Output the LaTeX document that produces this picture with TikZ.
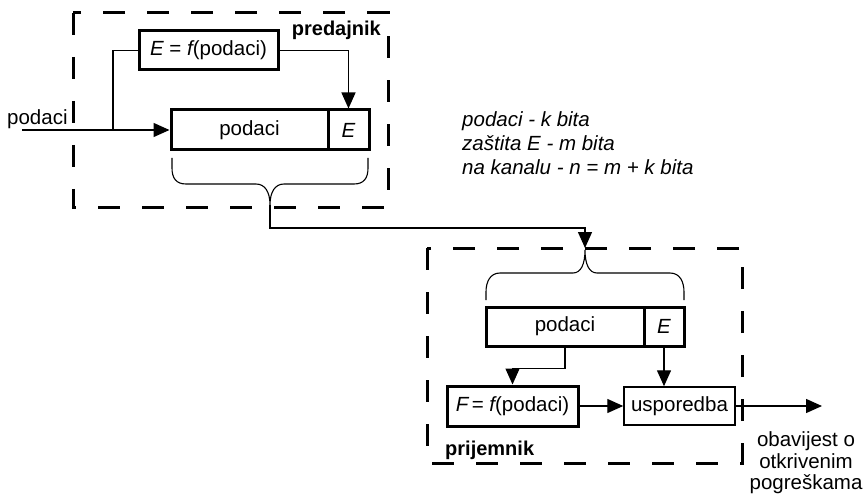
\documentclass[tikz,border=0pt]{standalone}
\usepackage{fontspec}
\setmainfont{Liberation Sans}
\usetikzlibrary{arrows.meta}
\begin{document}
\begin{tikzpicture}[x=1pt,y=-1pt,
  font=\fontsize{20.5}{24}\selectfont,
  thin line/.style={line width=1.4pt},
  arr/.style={thin line,-{Triangle[length=16pt,width=14pt]}},
  thickbox/.style={draw,line width=3pt,inner sep=0pt,anchor=center},
  thinbox/.style={draw,line width=1.5pt,inner sep=0pt,anchor=center},
  region/.style={draw,line width=3pt,dash pattern=on 22pt off 22pt},
  brace/.style={line width=1.1pt},
  label/.style={inner sep=0pt}]
\useasboundingbox (0,0) rectangle (866,494);

% dashed outlines of transmitter and receiver
\draw[region] (73,13) rectangle (388,208);
\draw[region] (427,248) rectangle (742,463);

% transmitter
\node[thickbox,minimum width=139pt,minimum height=39pt] (efunc) at (208.5,50.5)
  {{\itshape E} = {\itshape f}(podaci)};
\node[thickbox,minimum width=157pt,minimum height=40pt] (pcell) at (249.5,130) {podaci};
\node[thickbox,minimum width=41pt,minimum height=40pt] (ecell) at (348.5,130) {\itshape E};
\node[label,anchor=base east,font=\fontsize{20}{24}\selectfont\bfseries] (tx) at (381,36) {predajnik};
\node[label,anchor=base west] (inlbl) at (7,125) {podaci};

\coordinate (in) at (22,130);
\coordinate (split) at (113,130);
\draw[arr] (in) -- (pcell.west);
\draw[thin line] (split) |- (efunc.west);
\draw[arr] (efunc.east) -| (ecell.north);

% brace under the transmitted word
\coordinate (tipA) at (270,205);
\draw[brace] (172,158) -- (172,168) .. controls (172,178) and (176,184) .. (186,184)
  -- (256,184) .. controls (265,184) and (270,192) .. (tipA)
  .. controls (270,192) and (275,184) .. (284,184)
  -- (354,184) .. controls (364,184) and (368,178) .. (368,168) -- (368,158);

% channel
\coordinate (tipB) at (585,248);
\draw[arr] (tipA) -- (270,228) -| (tipB);

% brace over the received word
\draw[brace] (486,300) -- (486,292) .. controls (486,282) and (490,273) .. (500,273)
  -- (573,273) .. controls (581,273) and (585,264) .. (585,250)
  .. controls (585,264) and (589,273) .. (597,273)
  -- (670,273) .. controls (680,273) and (684,282) .. (684,292) -- (684,300);

% receiver
\node[thickbox,minimum width=158pt,minimum height=39pt] (lpod) at (565,326.5) {podaci};
\node[thickbox,minimum width=40pt,minimum height=39pt] (lecell) at (664,326.5) {\itshape E};
\node[thickbox,minimum width=131pt,minimum height=40pt] (fbox) at (512.5,406)
  {{\itshape F}\,= {\itshape f}(podaci)};
\node[thinbox,minimum width=111pt,minimum height=38pt] (usp) at (679.5,406) {usporedba};
\node[label,anchor=base west,font=\fontsize{20}{24}\selectfont\bfseries] (rx) at (445,455) {prijemnik};

\draw[arr] (lpod.south) -- ++(0,21) -| (fbox.north);
\draw[arr] (lecell.south) -- (lecell.south |- usp.north);
\draw[arr] (fbox.east) -- (usp.west);
\coordinate (out) at (822,406);
\draw[arr] (usp.east) -- (out);

% notes on word lengths
\node[label,anchor=base west,font=\fontsize{20.5}{24}\selectfont\itshape] (n1) at (462,127) {podaci - k bita};
\node[label,anchor=base west,font=\fontsize{20.5}{24}\selectfont\itshape] (n2) at (462,151) {zaštita E - m bita};
\node[label,anchor=base west,font=\fontsize{20.5}{24}\selectfont\itshape] (n3) at (462,175) {na kanalu - n = m + k bita};

% output message
\node[label,anchor=base] (o1) at (806,446) {obavijest o};
\node[label,anchor=base] (o2) at (806,468) {otkrivenim};
\node[label,anchor=base] (o3) at (806,489) {pogreškama};
\end{tikzpicture}
\end{document}
